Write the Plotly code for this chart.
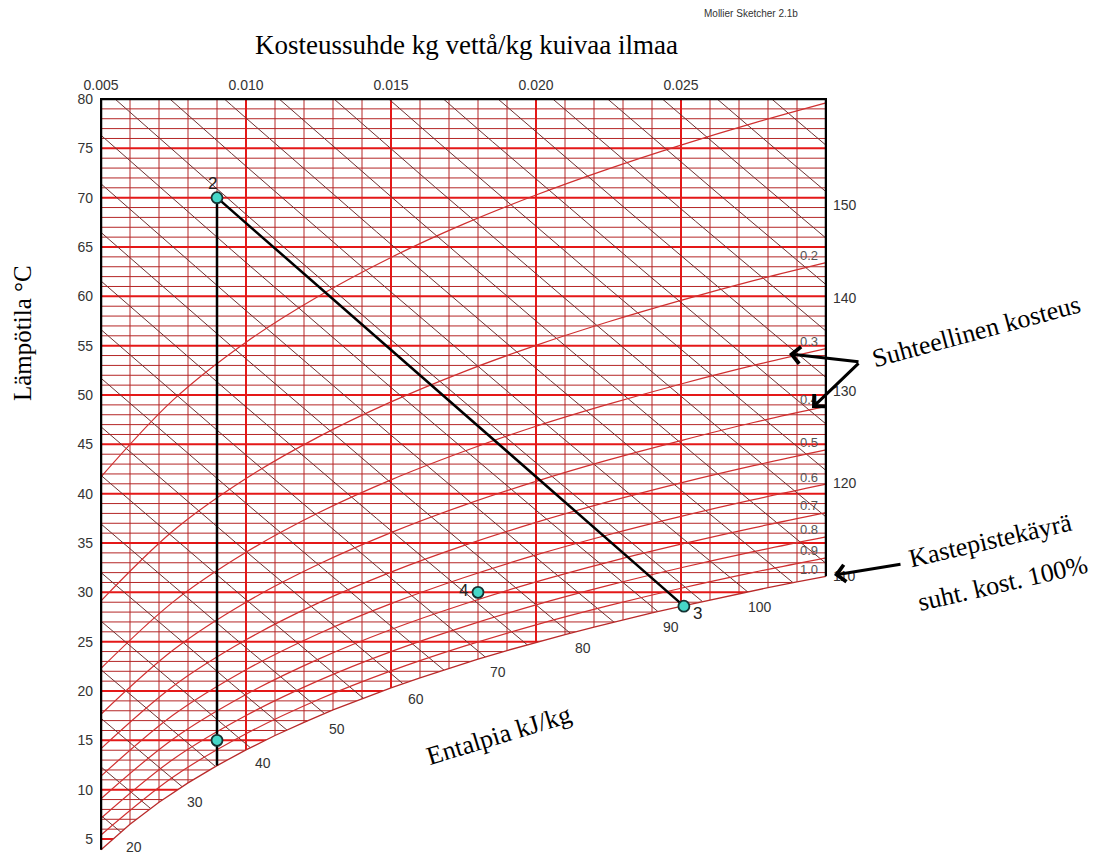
import numpy as np
import plotly.graph_objects as go

# ---------------- data ----------------
moisture_ticks = [0.005, 0.010, 0.015, 0.020, 0.025]
moisture_tick_text = ["0.005", "0.010", "0.015", "0.020", "0.025"]
temp_ticks = [5, 10, 15, 20, 25, 30, 35, 40, 45, 50, 55, 60, 65, 70, 75, 80]
moisture_minor_step = 0.001
temp_minor_step = 1

# saturation curve (relative humidity 1.0), read every 0.001 kg/kg
sat_x = [0.005, 0.006, 0.007, 0.008, 0.009, 0.010, 0.011, 0.012, 0.013,
         0.014, 0.015, 0.016, 0.017, 0.018, 0.019, 0.020, 0.021, 0.022,
         0.023, 0.024, 0.025, 0.026, 0.027, 0.028, 0.029, 0.030]
sat_T = [3.91, 6.49, 8.73, 10.69, 12.44, 14.03, 15.49, 16.83, 18.08,
         19.23, 20.32, 21.34, 22.31, 23.23, 24.10, 24.93, 25.72, 26.48,
         27.21, 27.92, 28.59, 29.24, 29.87, 30.48, 31.07, 31.63]

# relative humidity curves, read every 0.0025 kg/kg
rh_x = [0.005, 0.0075, 0.010, 0.0125, 0.015, 0.0175, 0.020, 0.0225,
        0.025, 0.0275, 0.030]
rh_T_01 = [41.70, 49.53, 55.35, 60.01, 63.94, 67.32, 70.27, 72.92, 75.33, 77.55, 79.60]
rh_T_02 = [29.13, 36.26, 41.54, 45.76, 49.30, 52.35, 55.03, 57.42, 59.59, 61.59, 63.42]
rh_T_03 = [22.29, 29.06, 34.06, 38.06, 41.40, 44.27, 46.83, 49.07, 51.12, 53.00, 54.70]
rh_T_04 = [17.65, 24.18, 29.00, 32.84, 36.05, 38.82, 41.25, 43.42, 45.38, 47.21, 48.84]
rh_T_05 = [14.16, 20.51, 25.19, 28.93, 32.05, 34.73, 37.09, 39.19, 41.10, 42.84, 44.44]
rh_T_06 = [11.38, 17.59, 22.16, 25.81, 28.86, 31.48, 33.79, 35.84, 37.70, 39.39, 40.96]
rh_T_07 = [9.08, 15.17, 19.65, 23.23, 26.23, 28.79, 31.06, 33.07, 34.88, 36.54, 38.08]
rh_T_08 = [7.11, 13.11, 17.52, 21.05, 23.99, 26.50, 28.73, 30.70, 32.49, 34.13, 35.63]
rh_T_09 = [5.41, 11.31, 15.67, 19.14, 22.04, 24.52, 26.71, 28.65, 30.42, 32.03, 33.50]
rh_label_text = ["0.2", "0.3", "0.4", "0.5", "0.6", "0.7", "0.8", "0.9", "1.0"]

# enthalpy lines kJ/kg
enthalpy_levels = list(range(20, 165, 5))
enthalpy_labels_bottom = [20, 30, 40, 50, 60, 70, 80, 90, 100]
enthalpy_labels_right = [110, 120, 130, 140, 150]

# process states
pt_names = ["1", "2", "3", "4"]
pt_x = [0.009, 0.009, 0.0251, 0.018]
pt_T = [15.0, 70.0, 28.6, 30.0]
path_x = [0.009, 0.009, 0.0251]
path_T = [12.44, 70.0, 28.6]

# ---------------- layout geometry ----------------
OFF = 8                      # default page margin of the html body
W, H = 1103 - OFF, 855 - OFF
ML, MR, MT, MB = 92, 276, 90, 2
PW, PH = W - ML - MR, H - MT - MB
PX_PER_X = 29000.0
PX_PER_T = 9.867
x_lo = 0.005 - 1 / PX_PER_X
x_range = [x_lo, x_lo + PW / PX_PER_X]
y_hi = 80 + 1 / PX_PER_T
y_range = [y_hi - PH / PX_PER_T, y_hi]


def paper(px, py):
    """screen pixel -> paper coordinates"""
    fx, fy = px - OFF, py - OFF
    return (fx - ML) / PW, (H - MB - fy) / PH


def enthalpy_T(h, x):
    x = np.asarray(x, dtype=float)
    return (h - 2501 * x) / (1.006 + 1.86 * x)


THICK = "rgb(228,24,24)"
THIN = "rgb(180,38,38)"
ENTH = "rgb(110,50,50)"
RHC = "rgb(208,48,48)"

fig = go.Figure()


def seg_trace(xl, yl, color, width):
    fig.add_trace(go.Scatter(x=xl, y=yl, mode="lines",
                             line=dict(color=color, width=width),
                             hoverinfo="skip"))


# thin grid
n_x = int(round((0.030 - 0.005) / moisture_minor_step))
minor_x = [round(0.005 + i * moisture_minor_step, 4) for i in range(n_x + 1)]
minor_x = [v for v in minor_x if all(abs(v - m) > 1e-9 for m in moisture_ticks) and v < 0.0299]
minor_T = [t for t in range(3, 80, temp_minor_step) if t not in temp_ticks]
gx, gy = [], []
for v in minor_x:
    gx += [v, v, None]
    gy += [0, 85, None]
for t in minor_T:
    gx += [0.004, 0.031, None]
    gy += [t, t, None]
seg_trace(gx, gy, THIN, 1)

# thick grid
gx, gy = [], []
for v in moisture_ticks[1:]:
    gx += [v, v, None]
    gy += [0, 85, None]
for t in temp_ticks[:-1]:
    gx += [0.004, 0.031, None]
    gy += [t, t, None]
seg_trace(gx, gy, THICK, 2)

# enthalpy lines
xs = np.linspace(0.005, 0.030, 51)
ex, ey = [], []
for h in enthalpy_levels:
    ex += list(xs) + [None]
    ey += list(enthalpy_T(h, xs)) + [None]
seg_trace(ex, ey, ENTH, 1)

# white mask below saturation curve
mask_x = sat_x + [0.032, 0.032, 0.003, 0.003]
mask_T = sat_T + [sat_T[-1], 0, 0, sat_T[0]]
fig.add_trace(go.Scatter(x=mask_x, y=mask_T, mode="lines", fill="toself",
                         fillcolor="white", line=dict(width=0, color="white"),
                         hoverinfo="skip"))

# RH curves
rh_curves = [rh_T_01, rh_T_02, rh_T_03, rh_T_04, rh_T_05, rh_T_06,
             rh_T_07, rh_T_08, rh_T_09]
for curve in rh_curves:
    fig.add_trace(go.Scatter(x=rh_x, y=curve, mode="lines",
                             line=dict(color=RHC, width=1.2, shape="spline"),
                             hoverinfo="skip"))
# saturation curve
seg_trace(sat_x, sat_T, "rgb(185,42,42)", 1.3)

# chart border
seg_trace([0.030, 0.030, 0.005, 0.005], [sat_T[-1], 80, 80, sat_T[0]], "black", 2.5)

# process path
seg_trace(path_x, path_T, "black", 2.5)
fig.add_trace(go.Scatter(x=pt_x, y=pt_T, mode="markers",
                         marker=dict(size=11, color="rgb(70,215,200)",
                                     line=dict(color="rgb(20,50,50)", width=1.8)),
                         hoverinfo="skip"))

ann = []
sans = "Liberation Sans, Arial, sans-serif"
small = dict(family=sans, size=14, color="#333")
serif_f = "Liberation Serif, Times New Roman, serif"

# enthalpy labels along saturation curve
sx = np.array(sat_x)
sT = np.array(sat_T)
h_sat = 1.006 * sT + sx * (2501 + 1.86 * sT)
for h in enthalpy_labels_bottom:
    xi = float(np.interp(h, h_sat, sx))
    Ti = float(np.interp(h, h_sat, sT))
    ann.append(dict(x=xi, y=Ti, text=str(h), showarrow=False, xshift=13,
                    yshift=-15, font=small))
for h in enthalpy_labels_right:
    ann.append(dict(x=0.030, y=float(enthalpy_T(h, 0.030)), text=str(h),
                    showarrow=False, xanchor="left", xshift=5, yshift=-13,
                    font=small))

# RH labels
rh_ends = [c[-1] for c in rh_curves[1:]] + [sat_T[-1]]
for txt, Te in zip(rh_label_text, rh_ends):
    ann.append(dict(x=0.030, y=Te, text=txt, showarrow=False, xanchor="right",
                    xshift=-6, yshift=7,
                    font=dict(family=sans, size=13, color="#555")))

# point labels
pt_shift = {"2": (-5, 14), "3": (14, -7), "4": (-15, 2)}
for n, x, T in zip(pt_names, pt_x, pt_T):
    if n in pt_shift:
        dx, dy = pt_shift[n]
        ann.append(dict(x=x, y=T, text=n, showarrow=False, xshift=dx,
                        yshift=dy, font=dict(family=sans, size=17, color="#222")))


def text_at(px, py, text, size, angle=0, family=serif_f, color="black"):
    xp, yp = paper(px, py)
    ann.append(dict(xref="paper", yref="paper", x=xp, y=yp, text=text,
                    showarrow=False, textangle=angle,
                    font=dict(family=family, size=size, color=color),
                    xanchor="center", yanchor="middle"))


def arrow(tip, tail):
    xp, yp = paper(*tip)
    ann.append(dict(xref="paper", yref="paper", x=xp, y=yp, text="",
                    showarrow=True, ax=tail[0] - tip[0], ay=tail[1] - tip[1],
                    arrowhead=4, arrowsize=1.1, arrowwidth=3,
                    arrowcolor="black"))


text_at(466, 45, "Kosteussuhde kg vettå/kg kuivaa ilmaa", 27)
text_at(751, 14, "Mollier Sketcher 2.1b", 10, family=sans, color="#333")
text_at(22, 333, "Lämpötila °C", 25, -90)
text_at(976, 331, "Suhteellinen kosteus", 26, -15)
text_at(990, 540, "Kastepistekäyrä", 26, -13)
text_at(1002, 583, "suht. kost. 100%", 26, -13)
text_at(498, 735, "Entalpia kJ/kg", 26, -17)

arrow((789, 354), (860, 362))
arrow((812, 408), (860, 362))
arrow((834, 575), (902, 564))

fig.update_layout(
    width=W, height=H,
    margin=dict(l=ML, r=MR, t=MT, b=MB),
    paper_bgcolor="white", plot_bgcolor="white",
    showlegend=False,
    annotations=ann,
    xaxis=dict(range=x_range, side="top", tickmode="array",
               tickvals=moisture_ticks, ticktext=moisture_tick_text,
               showgrid=False, zeroline=False, showline=False, ticks="",
               ticklabelstandoff=4, tickfont=small),
    yaxis=dict(range=y_range, tickmode="array", tickvals=temp_ticks,
               showgrid=False, zeroline=False, showline=False, ticks="",
               ticklabelstandoff=6, tickfont=small),
)

fig.write_html("out.html")
